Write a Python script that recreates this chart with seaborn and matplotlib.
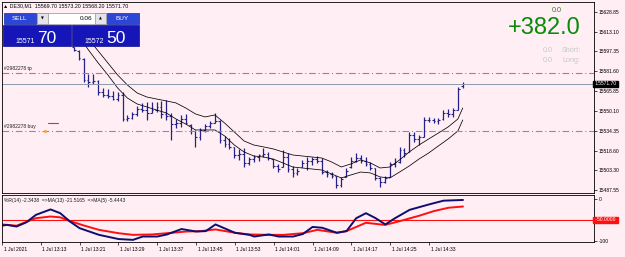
import numpy as np
import pandas as pd
import matplotlib
matplotlib.use("Agg")
import matplotlib.pyplot as plt
import matplotlib.transforms as mtransforms
from matplotlib.patches import Rectangle
import seaborn as sns

# --- data (DE30 M1, bars indexed in minutes from 13:05) ---
bar_idx = list(range(15, 96))
opens = [15600.5, 15598.0, 15591.5, 15575.0, 15573.0, 15574.0, 15565.0, 15563.0, 15562.0, 15560.0,
         15563.0, 15544.0, 15545.0, 15548.0, 15552.0, 15551.0, 15549.0, 15551.0, 15553.0, 15548.0,
         15546.0, 15540.0, 15541.0, 15544.0, 15539.5, 15534.0, 15530.0, 15535.0, 15538.0, 15541.0,
         15542.0, 15527.0, 15524.0, 15521.5, 15515.0, 15516.0, 15509.0, 15512.0, 15514.0, 15515.0,
         15516.0, 15512.0, 15507.0, 15506.0, 15514.0, 15504.0, 15501.0, 15506.0, 15509.0, 15511.0,
         15512.0, 15511.0, 15502.0, 15500.0, 15498.5, 15492.0, 15498.0, 15505.5, 15511.0, 15513.0,
         15511.0, 15508.0, 15505.0, 15497.0, 15494.0, 15498.0, 15508.0, 15510.0, 15519.0, 15518.0,
         15531.0, 15528.0, 15530.0, 15543.0, 15543.0, 15542.0, 15543.5, 15549.0, 15548.0, 15551.0,
         15569.7]
highs = [15600.9, 15598.5, 15592.2, 15579.5, 15579.5, 15574.8, 15568.4, 15567.6, 15566.1, 15565.3,
         15565.3, 15547.1, 15549.5, 15554.2, 15556.6, 15557.4, 15557.4, 15557.4, 15558.2, 15558.9,
         15548.7, 15543.9, 15547.1, 15547.9, 15539.9, 15535.2, 15536.8, 15539.9, 15542.3, 15548.7,
         15543.1, 15530.5, 15528.9, 15521.8, 15520.2, 15521.0, 15513.8, 15515.4, 15516.2, 15521.0,
         15517.8, 15512.2, 15508.3, 15519.4, 15517.0, 15506.7, 15505.1, 15511.5, 15513.8, 15513.8,
         15514.6, 15513.0, 15503.5, 15501.9, 15498.8, 15498.0, 15505.1, 15513.8, 15517.0, 15515.4,
         15513.8, 15509.9, 15505.1, 15498.0, 15498.8, 15509.9, 15513.0, 15521.8, 15521.0, 15533.6,
         15533.6, 15531.2, 15545.5, 15545.5, 15544.7, 15544.7, 15551.0, 15551.8, 15552.6, 15569.2,
         15573.2]
lows = [15597.7, 15590.6, 15573.2, 15569.2, 15571.6, 15562.9, 15561.3, 15560.5, 15558.9, 15558.2,
        15542.3, 15542.3, 15543.9, 15546.3, 15549.5, 15543.1, 15548.7, 15549.5, 15544.7, 15543.1,
        15527.3, 15536.8, 15537.6, 15539.9, 15532.0, 15521.8, 15527.3, 15533.6, 15536.8, 15540.7,
        15524.9, 15521.8, 15520.2, 15513.0, 15511.5, 15505.9, 15507.5, 15509.9, 15510.7, 15513.8,
        15511.5, 15505.1, 15501.9, 15505.9, 15501.9, 15498.0, 15499.6, 15505.9, 15503.5, 15507.5,
        15509.1, 15500.4, 15498.0, 15497.2, 15489.3, 15490.1, 15498.0, 15505.1, 15509.9, 15509.1,
        15506.7, 15503.5, 15495.6, 15490.1, 15493.3, 15498.0, 15505.9, 15509.1, 15513.8, 15517.8,
        15525.7, 15523.3, 15529.7, 15541.5, 15540.7, 15539.9, 15543.1, 15545.5, 15545.5, 15551.0,
        15568.2]
closes = [15598.5, 15592.0, 15575.0, 15573.0, 15574.0, 15565.0, 15563.0, 15562.0, 15560.0, 15563.0,
          15544.0, 15545.0, 15548.0, 15552.0, 15551.0, 15549.0, 15551.0, 15553.0, 15548.0, 15546.0,
          15540.0, 15541.0, 15544.0, 15541.0, 15534.0, 15530.0, 15535.0, 15538.0, 15541.0, 15542.0,
          15527.0, 15524.0, 15522.0, 15515.0, 15516.0, 15509.0, 15512.0, 15514.0, 15515.0, 15516.0,
          15513.0, 15507.0, 15504.0, 15514.0, 15504.0, 15501.0, 15503.0, 15509.0, 15511.0, 15512.0,
          15511.0, 15502.0, 15500.0, 15499.0, 15492.0, 15496.0, 15503.0, 15511.0, 15513.0, 15511.0,
          15508.0, 15505.0, 15497.0, 15494.0, 15497.0, 15508.0, 15510.0, 15519.0, 15517.0, 15531.0,
          15528.0, 15530.0, 15543.0, 15543.0, 15542.0, 15543.0, 15549.0, 15548.0, 15551.0, 15568.0,
          15571.7]

env_idx = [16, 18, 20, 22, 24, 26, 28, 30, 32, 34, 36, 38, 40, 42, 44, 46, 48, 50, 52, 54, 56,
           58, 60, 62, 64, 66, 68, 70, 72, 74, 76, 78, 80, 82, 84, 86, 88, 90, 92, 94, 95]
env_upper = [15615.9, 15607.2, 15597.7, 15588.2, 15578.7, 15570.8, 15564.5, 15561.3, 15559.7, 15558.2,
             15556.6, 15552.6, 15547.9, 15545.5, 15547.1, 15540.7, 15533.6, 15526.5, 15523.3, 15521.8,
             15520.2, 15517.8, 15515.4, 15514.6, 15513.8, 15513.0, 15509.9, 15505.9, 15508.3, 15511.5,
             15509.1, 15505.1, 15505.9, 15511.5, 15517.8, 15523.3, 15528.1, 15532.8, 15537.6, 15543.9,
             15552.6]
env_lower = [15609.6, 15598.5, 15588.2, 15578.7, 15568.4, 15560.5, 15555.8, 15553.4, 15551.0, 15548.7,
             15543.9, 15539.9, 15535.2, 15535.2, 15535.2, 15530.5, 15523.3, 15517.8, 15514.6, 15513.8,
             15512.2, 15509.1, 15505.9, 15505.1, 15504.3, 15503.5, 15500.4, 15497.2, 15499.6, 15501.9,
             15501.2, 15498.0, 15497.2, 15501.9, 15506.7, 15512.2, 15517.0, 15522.6, 15528.1, 15534.4,
             15543.1]

wpr_idx = [0, 1, 3, 5, 7, 10, 12, 14, 16, 20, 24, 27, 29, 32, 34, 37, 40, 42, 44, 45, 48, 51, 52,
           55, 57, 60, 62, 64, 66, 69, 71, 73, 75, 77, 79, 81, 84, 88, 91, 95]
wpr_vals = [-64, -62, -66, -56, -38, -25, -34, -54, -70, -86, -96, -98, -90, -90, -85, -72, -78, -77,
            -61, -66, -81, -86, -90, -85, -90, -90, -84, -67, -69, -81, -77, -46, -34, -46, -61, -46,
            -26, -13, -4, -2.3]
ma_idx = [0, 3, 7, 10, 12, 14, 17, 20, 24, 27, 31, 34, 38, 41, 44, 48, 51, 55, 58, 62, 65, 69, 71,
          75, 78, 79, 82, 86, 89, 92, 95]
ma_vals = [-61, -64, -46, -42, -44, -53, -64, -74, -82, -86, -85, -82, -78, -77, -73, -81, -85, -86,
           -86, -82, -74, -81, -77, -57, -61, -62, -53, -40, -29, -21, -18]

time_ticks = [0, 8, 16, 24, 32, 40, 48, 56, 64, 72, 80, 88]
time_labels = ["1 Jul 2021", "1 Jul 13:13", "1 Jul 13:21", "1 Jul 13:29", "1 Jul 13:37", "1 Jul 13:45",
               "1 Jul 13:53", "1 Jul 14:01", "1 Jul 14:09", "1 Jul 14:17", "1 Jul 14:25", "1 Jul 14:33"]
price_ticks = [15628.85, 15613.10, 15597.35, 15581.60, 15565.85, 15550.10, 15534.35, 15518.60,
               15503.30, 15487.55]
price_labels = ["15628.85", "15613.10", "15597.35", "15581.60", "15565.85", "15550.10", "15534.35",
                "15518.60", "15503.30", "15487.55"]
tp_level = 15580.3
bid_level = 15571.70
buy_level = 15534.4
sl_mark = 15540.8

bg = "#FFEEF4"
bar_col = "#22228A"
W, H = 625, 257

sns.set_theme(style="white", rc={"figure.facecolor": bg, "axes.facecolor": bg,
                                 "savefig.facecolor": bg, "axes.edgecolor": "black"})
plt.rcParams['font.family'] = ['Liberation Sans', 'DejaVu Sans']

fig = plt.figure(figsize=(6.25, 2.57), dpi=100)


def box(x0, y0, x1, y1):
    return [x0 / W, 1 - y1 / H, (x1 - x0) / W, (y1 - y0) / H]


ax = fig.add_axes(box(2, 2, 594, 193))
axi = fig.add_axes(box(2, 194.5, 594, 241.7))

df = pd.DataFrame({"bar": bar_idx, "open": opens, "high": highs, "low": lows, "close": closes})

# main price chart
ax.vlines(df["bar"], df["low"], df["high"], color=bar_col, lw=0.9)
ax.hlines(df["open"], df["bar"] - 0.35, df["bar"], color=bar_col, lw=0.8)
ax.hlines(df["close"], df["bar"], df["bar"] + 0.35, color=bar_col, lw=0.8)
sns.lineplot(x=env_idx, y=env_upper, ax=ax, color="black", lw=0.55)
sns.lineplot(x=env_idx, y=env_lower, ax=ax, color="black", lw=0.55)

ax.axhline(tp_level, color="#FF5A5A", lw=0.8, dashes=(6, 2.5, 1, 2.5))
ax.axhline(bid_level, color="#8C9AAA", lw=0.7)
ax.axhline(buy_level, color="#8A8AB8", lw=0.8, dashes=(6, 2.5, 1, 2.5))
ax.plot([9.7, 11.7], [sl_mark, sl_mark], color="#FF2020", lw=0.8)
ax.plot([9.0], [buy_level], marker="o", ms=1.2, color="#FFA040")

trans_txt = mtransforms.blended_transform_factory(ax.transAxes, ax.transData)
ax.text(0.004, tp_level + 1.2, "#2982278 tp", transform=trans_txt, fontsize=3.6, color="#202020",
        va="bottom", ha="left")
ax.text(0.004, buy_level + 1.2, "#2982278 buy", transform=trans_txt, fontsize=3.6, color="#202020",
        va="bottom", ha="left")

ax.set_xlim(0.206, 122.0)
ax.set_ylim(15485.3, 15636.5)
ax.set_xticks([])
ax.set_yticks(price_ticks)
ax.set_yticklabels(price_labels)
ax.yaxis.tick_right()
ax.tick_params(axis="y", length=2, width=0.5, pad=1.2, labelsize=3.6, colors="black")
ax.set_xlabel("")
ax.set_ylabel("")
for s in ax.spines.values():
    s.set_linewidth(0.6)
    s.set_color("black")
ax.text(1.0, bid_level, " 15571.70 ", transform=trans_txt, fontsize=3.6, color="white",
        va="center", ha="left",
        bbox=dict(boxstyle="square,pad=0.15", fc="black", ec="black"))

# indicator panel
axi.axhline(-50, color="#FF1010", lw=0.8)
sns.lineplot(x=ma_idx, y=ma_vals, ax=axi, color="#FF1010", lw=1.4)
sns.lineplot(x=wpr_idx, y=wpr_vals, ax=axi, color="#0E0E6E", lw=1.4)
axi.set_xlim(0.206, 122.0)
axi.set_ylim(-102.4, 10.8)
axi.set_yticks([0, -100])
axi.set_yticklabels(["0", "-100"])
axi.yaxis.tick_right()
axi.tick_params(axis="y", length=2, width=0.5, pad=1.2, labelsize=3.6, colors="black")
axi.set_xticks(time_ticks)
axi.set_xticklabels(time_labels, ha="left")
axi.tick_params(axis="x", bottom=True, length=2, width=0.5, pad=1.5, labelsize=3.6, colors="black")
off = mtransforms.ScaledTranslation(1.5 / 100, 0, fig.dpi_scale_trans)
for lab in axi.get_xticklabels():
    lab.set_transform(lab.get_transform() + off)
axi.set_xlabel("")
axi.set_ylabel("")
for s in axi.spines.values():
    s.set_linewidth(0.6)
    s.set_color("black")
trans_i = mtransforms.blended_transform_factory(axi.transAxes, axi.transData)
axi.text(1.0, -50, " -50.0000 ", transform=trans_i, fontsize=3.6, color="white", va="center",
         ha="left", bbox=dict(boxstyle="square,pad=0.15", fc="#FF1010", ec="#FF1010"))
axi.text(0.003, 0.93, "%R(14) -2.3438  =>MA(13) -21.5165  =>MA(5) -5.4443", transform=axi.transAxes,
         fontsize=3.6, color="#202020", va="top", ha="left")

# trade panel and overlay texts (pixel coordinates)
ui = fig.add_axes([0, 0, 1, 1], zorder=10)
ui.set_xlim(0, W)
ui.set_ylim(H, 0)
ui.axis("off")
ui.patch.set_alpha(0)

ui.text(3, 6, "\u25B2 DE30,M1  15569.70 15573.20 15568.20 15571.70", fontsize=3.8, color="black",
        va="center", ha="left", family=["Liberation Sans", "DejaVu Sans"])
ui.add_patch(Rectangle((3.5, 12.5), 32, 11.5, fc="#2C46D8", ec="#1828A8", lw=0.5))
ui.add_patch(Rectangle((106.5, 12.5), 32, 11.5, fc="#2C46D8", ec="#1828A8", lw=0.5))
ui.add_patch(Rectangle((37, 12.5), 69, 11.5, fc="white", ec="#9090A0", lw=0.5))
ui.add_patch(Rectangle((37, 12.5), 11, 11.5, fc="#E4E4E8", ec="#9090A0", lw=0.5))
ui.add_patch(Rectangle((95, 12.5), 11, 11.5, fc="#E4E4E8", ec="#9090A0", lw=0.5))
ui.add_patch(Rectangle((3, 25), 68, 21, fc="#1616B8", ec="#0C0C90", lw=0.5))
ui.add_patch(Rectangle((72, 25), 66.5, 21, fc="#1616B8", ec="#0C0C90", lw=0.5))
ui.text(19.5, 18.5, "SELL", fontsize=4.6, color="white", ha="center", va="center")
ui.text(122.5, 18.5, "BUY", fontsize=4.6, color="white", ha="center", va="center")
ui.text(92, 18.5, "0.06", fontsize=4.6, color="black", ha="right", va="center")
ui.text(42.5, 18.5, "\u25BC", fontsize=2.6, color="black", ha="center", va="center",
        family=["DejaVu Sans"])
ui.text(100.5, 18.5, "\u25B2", fontsize=2.6, color="black", ha="center", va="center",
        family=["DejaVu Sans"])
ui.text(35, 43, "15571", fontsize=5.0, color="white", ha="right", va="baseline")
ui.text(37, 43, "70", fontsize=12.5, color="white", ha="left", va="baseline")
ui.text(104, 43, "15572", fontsize=5.0, color="white", ha="right", va="baseline")
ui.text(106, 43, "50", fontsize=12.5, color="white", ha="left", va="baseline")

ui.text(557, 10, "0.0", fontsize=5.2, color="#1E8C1E", ha="center", va="center")
ui.text(544, 28, "+382.0", fontsize=17, color="#0A8A0A", ha="center", va="center")
ui.text(543, 50, "0.0", fontsize=5.2, color="#C8C8C8", ha="left", va="center")
ui.text(562, 50, "Short:", fontsize=5.2, color="#C8C8C8", ha="left", va="center")
ui.text(543, 61, "0.0", fontsize=5.2, color="#C8C8C8", ha="left", va="center")
ui.text(562, 61, "Long:", fontsize=5.2, color="#C8C8C8", ha="left", va="center")

fig.savefig("out.png", dpi=100)
